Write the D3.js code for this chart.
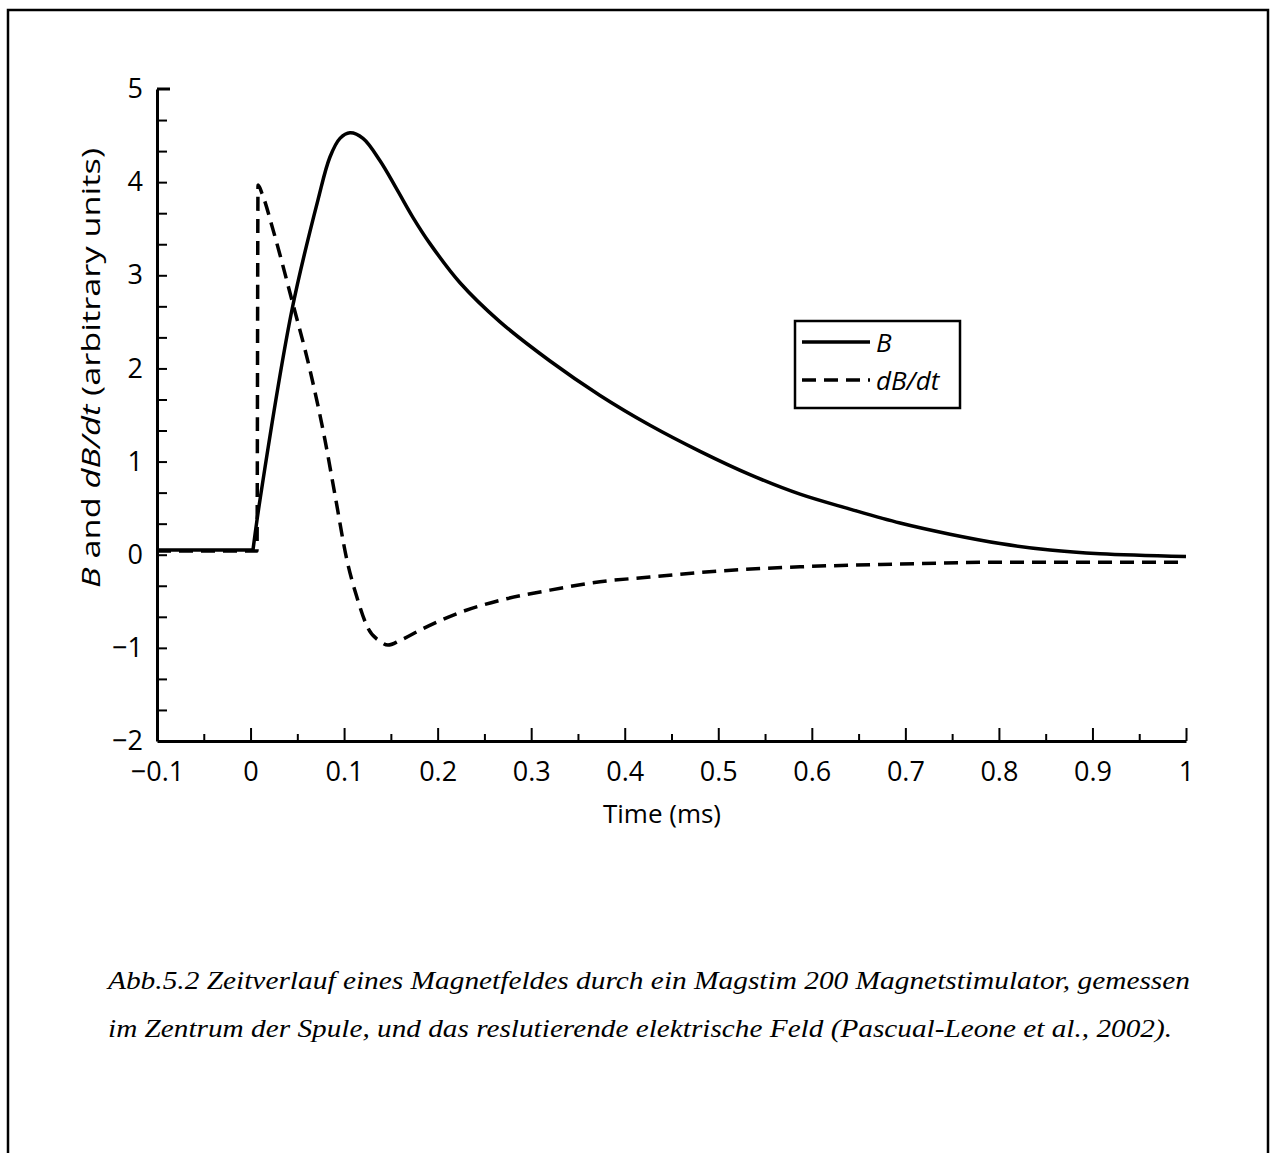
<!DOCTYPE html>
<html>
<head>
<meta charset="utf-8">
<script src="https://cdn.jsdelivr.net/npm/d3@7"></script>
<style>
  html, body { margin: 0; padding: 0; background: #fff; }
  svg { display: block; }
</style>
</head>
<body>
<svg id="chart" width="1271" height="1153"></svg>
<script>
// Time axis (ms) and value axis (arbitrary units)
const xDomain = [-0.1, 1];
const yDomain = [-2, 5];
const xMajorTicks = [-0.1, 0, 0.1, 0.2, 0.3, 0.4, 0.5, 0.6, 0.7, 0.8, 0.9, 1];
const xMinorTicks = [-0.05, 0.05, 0.15, 0.25, 0.35, 0.45, 0.55, 0.65, 0.75, 0.85, 0.95];
const yLabelTicks = [-2, -1, 0, 1, 2, 3, 4, 5];
const yMinorTicks = d3.range(1, 21).map(k => -2 + k / 3);

// Magnetic field B
const bTime  = [-0.1, 0.0026, 0.0101, 0.0443, 0.0721, 0.0849, 0.0956, 0.1063, 0.1202, 0.1384, 0.1566, 0.1737, 0.1918, 0.2239, 0.2667, 0.3201, 0.3736, 0.4270, 0.4805, 0.5339, 0.5874, 0.6408, 0.6943, 0.7477, 0.8012, 0.8546, 0.9081, 1.0];
const bValue = [0.05, 0.05, 0.59, 2.63, 3.81, 4.27, 4.47, 4.53, 4.47, 4.23, 3.92, 3.62, 3.34, 2.92, 2.50, 2.08, 1.71, 1.39, 1.11, 0.86, 0.65, 0.49, 0.34, 0.22, 0.12, 0.05, 0.01, -0.02];

// Rate of change dB/dt
const dbTime  = [-0.1, 0.0069, 0.0080, 0.0122, 0.0240, 0.0443, 0.0636, 0.0796, 0.0903, 0.1031, 0.1138, 0.1256, 0.1384, 0.1469, 0.1598, 0.1811, 0.2239, 0.2667, 0.3201, 0.3736, 0.4270, 0.4805, 0.5874, 0.6943, 0.8012, 1.0];
const dbValue = [0.04, 0.04, 3.97, 3.88, 3.49, 2.73, 1.98, 1.23, 0.64, -0.06, -0.46, -0.79, -0.93, -0.97, -0.92, -0.81, -0.62, -0.49, -0.38, -0.29, -0.24, -0.19, -0.13, -0.10, -0.08, -0.08];

const captionLines = [
  "Abb.5.2 Zeitverlauf eines Magnetfeldes durch ein Magstim 200 Magnetstimulator, gemessen",
  "im Zentrum der Spule, und das reslutierende elektrische Feld (Pascual-Leone et al., 2002)."
];
const captionWidths = [1082, 1064];

const svg = d3.select("#chart");
const sansFont = "'Open Sans', 'Noto Sans', sans-serif";

// Page frame
svg.append("path")
  .attr("d", "M8,1153 V10 H1268 V1153")
  .attr("fill", "none").attr("stroke", "#000").attr("stroke-width", 2.5);

const x = d3.scaleLinear().domain(xDomain).range([157, 1186]);
const y = d3.scaleLinear().domain(yDomain).range([741, 89]);

const fmt = v => (v < 0 ? "\u2212" : "") + d3.format("")(Math.abs(+v.toFixed(2)));

// X axis: major ticks with labels, minor ticks without
const gx = svg.append("g").attr("transform", `translate(0,${y(-2)})`)
  .call(d3.axisBottom(x).tickValues(xMajorTicks).tickSize(-13).tickSizeOuter(0).tickPadding(21).tickFormat(fmt));
svg.append("g").attr("transform", `translate(0,${y(-2)})`)
  .call(d3.axisBottom(x).tickValues(xMinorTicks).tickSize(-7).tickSizeOuter(0).tickFormat(""))
  .select(".domain").remove();

// Y axis: labelled integers, inner ticks every third of a unit
const gy = svg.append("g").attr("transform", `translate(${x(-0.1)},0)`)
  .call(d3.axisLeft(y).tickValues(yLabelTicks).tickSize(0).tickSizeOuter(0).tickPadding(14).tickFormat(fmt));
svg.append("g").attr("transform", `translate(${x(-0.1)},0)`)
  .call(d3.axisLeft(y).tickValues(yMinorTicks).tickSize(-10).tickSizeOuter(0).tickFormat(""))
  .select(".domain").remove();
svg.append("line")
  .attr("x1", x(-0.1)).attr("x2", x(-0.1) + 13)
  .attr("y1", y(5)).attr("y2", y(5))
  .attr("stroke", "#000").attr("stroke-width", 3);

[gx, gy].forEach(g => {
  g.select(".domain").attr("stroke-width", 3);
  g.selectAll(".tick text").attr("font-family", sansFont).attr("font-size", 27).attr("fill", "#000");
});
svg.selectAll(".tick line").attr("stroke-width", 2);

// Axis titles
svg.append("text")
  .attr("x", 662).attr("y", 823)
  .attr("text-anchor", "middle")
  .attr("font-family", sansFont).attr("font-size", 26)
  .text("Time (ms)");

const yt = svg.append("text")
  .attr("transform", "translate(100,368) rotate(-90)")
  .attr("text-anchor", "middle")
  .attr("font-family", sansFont).attr("font-size", 26)
  .attr("textLength", 440).attr("lengthAdjust", "spacingAndGlyphs");
yt.append("tspan").attr("font-style", "italic").text("B");
yt.append("tspan").text(" and ");
yt.append("tspan").attr("font-style", "italic").text("dB/dt");
yt.append("tspan").text(" (arbitrary units)");

// Curves: the flat baseline is straight, the pulse itself is smooth
const bData = bTime.map((t, i) => [t, bValue[i]]);
const dbData = dbTime.map((t, i) => [t, dbValue[i]]);

const straight = d3.line().x(d => x(d[0])).y(d => y(d[1]));
const smooth = d3.line().x(d => x(d[0])).y(d => y(d[1])).curve(d3.curveCatmullRom.alpha(0.5));
const bPath = straight(bData.slice(0, 2)) + smooth(bData.slice(1)).replace(/^M/, "L");

svg.append("path")
  .attr("fill", "none").attr("stroke", "#000").attr("stroke-width", 3.5)
  .attr("stroke-linejoin", "round")
  .attr("d", bPath);

svg.append("path")
  .datum(dbData)
  .attr("fill", "none").attr("stroke", "#000").attr("stroke-width", 3.5)
  .attr("stroke-dasharray", "14,8")
  .attr("d", d3.line().x(d => x(d[0])).y(d => y(d[1])).curve(d3.curveMonotoneX));

// Legend
const legend = svg.append("g");
legend.append("rect")
  .attr("x", 795).attr("y", 321).attr("width", 165).attr("height", 87)
  .attr("fill", "#fff").attr("stroke", "#000").attr("stroke-width", 2.5);
const legendItems = [
  { name: "B", dash: null, yy: 342 },
  { name: "dB/dt", dash: "14,8", yy: 380 }
];
legendItems.forEach(it => {
  legend.append("line")
    .attr("x1", 802).attr("x2", 870).attr("y1", it.yy).attr("y2", it.yy)
    .attr("stroke", "#000").attr("stroke-width", 3.5)
    .attr("stroke-dasharray", it.dash);
  legend.append("text")
    .attr("x", 876).attr("y", it.yy + 10)
    .attr("font-family", sansFont).attr("font-size", 26).attr("font-style", "italic")
    .text(it.name);
});

// Caption
svg.append("g").selectAll("text")
  .data(captionLines)
  .join("text")
  .attr("x", 108).attr("y", (d, i) => 989 + i * 48)
  .attr("font-family", "'Liberation Serif', 'Times New Roman', serif")
  .attr("font-style", "italic").attr("font-size", 26)
  .attr("textLength", (d, i) => captionWidths[i]).attr("lengthAdjust", "spacingAndGlyphs")
  .text(d => d);
</script>
</body>
</html>
